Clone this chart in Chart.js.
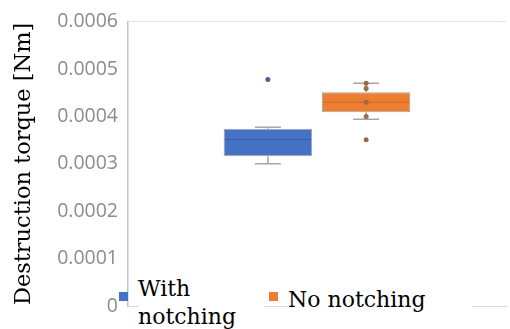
<!DOCTYPE html>
<html>
<head>
<meta charset="utf-8">
<script src="https://cdn.jsdelivr.net/npm/chart.js@4.4.1/dist/chart.umd.min.js"></script>
<style>
  html, body { margin: 0; padding: 0; background: #ffffff; }
  #wrap { position: relative; width: 510px; height: 329px; overflow: hidden; }
  canvas { position: absolute; left: 0; top: 0; }
  .lg { position: absolute; font-family: "DejaVu Serif", serif; font-size: 22px; line-height: 28px; color: #000; background: #fff; white-space: nowrap; }
  .sw { position: absolute; width: 9px; height: 9px; }
</style>
</head>
<body>
<div id="wrap">
  <canvas id="c" width="510" height="329"></canvas>
</div>
<script>
// ---- data ----
const categories = [''];
const seriesNames = ['With notching', 'No notching'];
const seriesColors = ['#4472C4', '#ED7D31'];
const q1 = [0.000316, 0.000409];
const q3 = [0.000374, 0.000451];
const medians = [0.000351, 0.000430];
const whiskerLow = [0.000300, 0.000394];
const whiskerHigh = [0.000377, 0.000470];
const innerPoints = [[], [0.000470, 0.000459, 0.000430, 0.000400]];
const outliers = [[0.000478], [0.000351]];
const yTickValues = [0, 0.0001, 0.0002, 0.0003, 0.0004, 0.0005, 0.0006];
const yTickLabels = ['0', '0.0001', '0.0002', '0.0003', '0.0004', '0.0005', '0.0006'];

const boxPlugin = {
  id: 'boxExtras',
  afterDatasetsDraw(chart) {
    const ctx = chart.ctx;
    const ys = chart.scales.y;
    chart.data.datasets.forEach((ds, i) => {
      const bar = chart.getDatasetMeta(i).data[0];
      const x = bar.x;
      const w = bar.width;
      const cap = 26;
      ctx.save();
      ctx.strokeStyle = '#a6a6a6';
      ctx.lineWidth = 1.5;
      const yHi = ys.getPixelForValue(whiskerHigh[i]);
      const yLo = ys.getPixelForValue(whiskerLow[i]);
      const yQ3 = ys.getPixelForValue(q3[i]);
      const yQ1 = ys.getPixelForValue(q1[i]);
      ctx.beginPath();
      ctx.moveTo(x, yHi); ctx.lineTo(x, yQ3);
      ctx.moveTo(x, yQ1); ctx.lineTo(x, yLo);
      ctx.moveTo(x - cap / 2, yHi); ctx.lineTo(x + cap / 2, yHi);
      ctx.moveTo(x - cap / 2, yLo); ctx.lineTo(x + cap / 2, yLo);
      ctx.stroke();
      const yMed = ys.getPixelForValue(medians[i]);
      ctx.strokeStyle = i === 0 ? 'rgba(40,70,140,0.45)' : 'rgba(170,80,20,0.45)';
      ctx.lineWidth = 1;
      ctx.beginPath();
      ctx.moveTo(x - w / 2 + 1, yMed); ctx.lineTo(x + w / 2 - 1, yMed);
      ctx.stroke();
      ctx.fillStyle = i === 0 ? '#4f5f8f' : '#9c6a48';
      innerPoints[i].concat(outliers[i]).forEach(v => {
        ctx.beginPath();
        ctx.arc(x, ys.getPixelForValue(v), 2.5, 0, Math.PI * 2);
        ctx.fill();
      });
      ctx.restore();
    });
  }
};

new Chart(document.getElementById('c'), {
  type: 'bar',
  data: {
    labels: categories,
    datasets: seriesNames.map((name, i) => ({
      label: name,
      data: [[q1[i], q3[i]]],
      backgroundColor: seriesColors[i],
      borderColor: '#a6a6a6',
      borderWidth: 1,
      borderSkipped: false,
      categoryPercentage: 0.52,
      barPercentage: 0.9
    }))
  },
  options: {
    responsive: false,
    animation: false,
    layout: { padding: { left: 0, right: 4, top: 21, bottom: 15 } },
    plugins: { legend: { display: false }, tooltip: { enabled: false } },
    scales: {
      x: {
        ticks: { display: false },
        grid: { display: false },
        border: { display: true, color: '#d9d9d9', width: 1 }
      },
      y: {
        min: 0, max: 0.0006,
        afterBuildTicks(scale) { scale.ticks = yTickValues.map(v => ({ value: v })); },
        afterFit(scale) { scale.width = 128; },
        ticks: {
          padding: 10,
          color: '#8c8c8c',
          font: { family: 'Open Sans', size: 19.5 },
          callback: (v, idx) => yTickLabels[idx]
        },
        grid: {
          drawTicks: false,
          color: ctx => (ctx.tick && ctx.tick.value === 0.0006) ? '#d3ebf2' : 'rgba(0,0,0,0)'
        },
        border: { display: true, color: '#bcc6d8', width: 1.5 },
        title: {
          display: true,
          text: 'Destruction torque [Nm]',
          color: '#000',
          font: { family: 'DejaVu Serif', size: 22.5 },
          padding: { top: 11, bottom: 0 }
        }
      }
    }
  },
  plugins: [boxPlugin]
});

// legend (HTML text)
const wrap = document.getElementById('wrap');
const lgPos = [
  { sx: 119, sy: 292, tx: 138, ty: 275, w: 127, html: 'With<br>notching' },
  { sx: 269, sy: 292, tx: 288, ty: 286, w: 184, html: 'No notching' }
];
seriesNames.forEach((n, i) => {
  const p = lgPos[i];
  const t = document.createElement('div');
  t.className = 'lg';
  t.style.left = p.tx + 'px'; t.style.top = p.ty + 'px'; t.style.width = p.w + 'px';
  t.innerHTML = p.html;
  wrap.appendChild(t);
  const s = document.createElement('div');
  s.className = 'sw';
  s.style.left = p.sx + 'px'; s.style.top = p.sy + 'px';
  s.style.background = seriesColors[i];
  wrap.appendChild(s);
});
</script>
</body>
</html>
